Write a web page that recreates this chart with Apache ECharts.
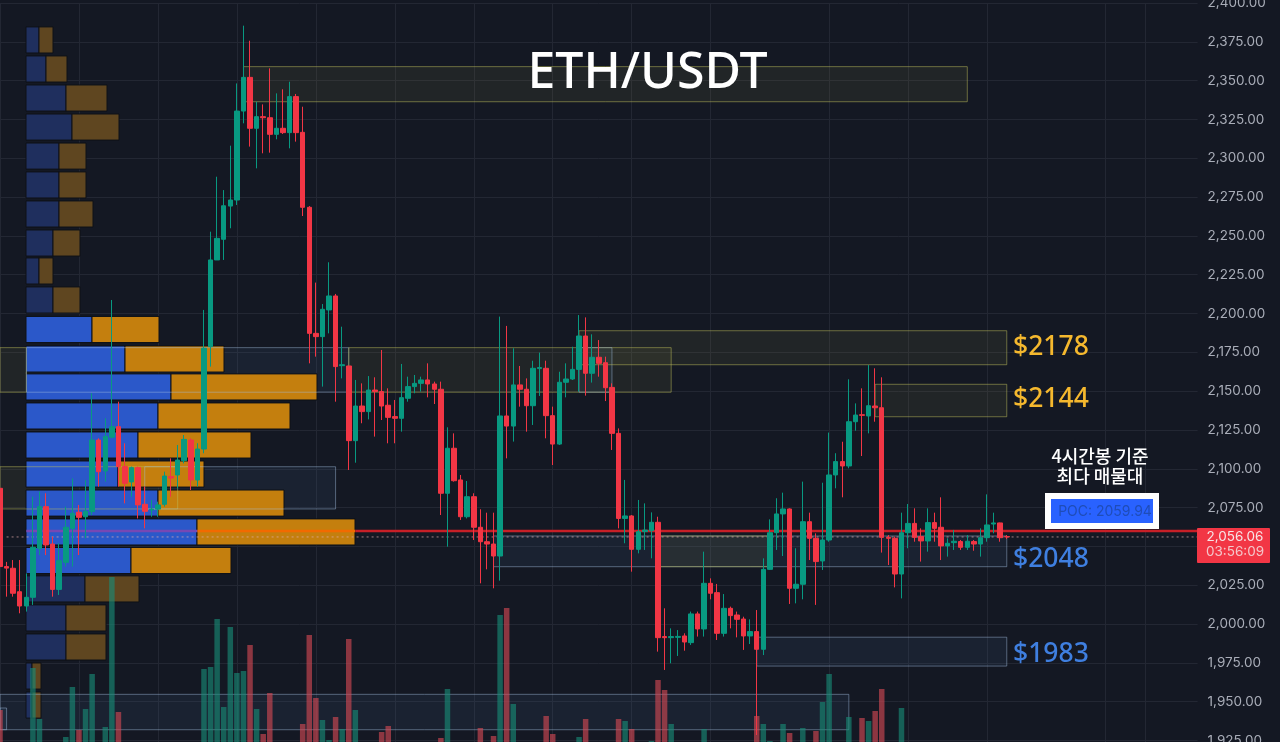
<!DOCTYPE html>
<html>
<head>
<meta charset="utf-8">
<title>ETH/USDT</title>
<script src="https://cdn.jsdelivr.net/npm/echarts@6/dist/echarts.min.js"></script>
<style>
  html, body { margin: 0; padding: 0; background: #141823; overflow: hidden; }
  #chart { width: 1280px; height: 742px; }
</style>
</head>
<body>
<div id="chart"></div>
<script>
'use strict';

// candles, 10 per line
const opens = [
  2087.4,2037,2035.9,2020.8,2011.6,2017.2,2048.7,2075.6,2051.5,2022.3,
  2039.7,2061.6,2072,2069.1,2072.4,2118.5,2098.6,2120.3,2127.1,2101.4,
  2091.5,2100.7,2077.1,2073.4,2074,2077.1,2095,2096,2105.2,2118.5,
  2092.8,2112.7,2178.6,2234.5,2247.8,2269.2,2273.1,2330.4,2352.1,2319.3,
  2326.8,2326.1,2315.4,2319.3,2316.5,2339.7,2316.7,2268.4,2187.2,2185.1,
  2202.3,2211.3,2166.4,2166.2,2118.1,2140.4,2136.8,2150.7,2149.7,2140.9,
  2133.6,2132.5,2145.4,2152.9,2155,2157.2,2154.6,2151.2,2084.2,2113.2,
  2092.8,2069.1,2082,2062.3,2053,2051.5,2043.8,2134,2127.5,2154,
  2151.2,2140.6,2164.5,2164.7,2134.2,2115.9,2155.7,2157.8,2164,2185.5,
  2161.5,2171.8,2168.3,2152.4,2122.8,2068,2069.6,2048.1,2059.5,2060.1,
  2065.5,1991.9,1991.2,1991.4,1992.3,1988,2006.5,1996.8,2026.2,2020.2,
  1994,2010.1,2005.8,2003.2,1992.3,1995.1,1983.7,2035.2,2058.8,2070.9,
  2074.1,2023,2025.6,2065.9,2055.2,2040.6,2054.1,2096,2104.6,2101.8,
  2130.3,2134.8,2134,2140.4,2139.3,2055.8,2055.2,2032.2,2058.8,2064.8,
  2056.3,2053.5,2065.3,2062.3,2050.3,2052.4,2053.1,2049.4,2053.1,2051.5,
  2055.6,2064.4,2065.1,2056.3
];
const closes = [
  2037,2036,2019.8,2011.6,2017.2,2049.4,2075.6,2050.9,2022.3,2040.8,
  2062.3,2071.3,2068.7,2072.6,2118.5,2098.1,2120.7,2127.1,2101.4,2090.6,
  2100.7,2076.7,2072.6,2074,2076.7,2095.3,2094,2105.6,2118.9,2092.8,
  2112.7,2177.6,2234.5,2248.4,2269.4,2273.1,2330.4,2352.1,2319.3,2326.8,
  2326.1,2315.4,2319.3,2316.5,2339.7,2316.5,2268.4,2187.2,2185.1,2202.7,
  2211.3,2165.8,2167,2118.1,2140.4,2136.8,2150.7,2149.7,2140.4,2133.1,
  2132.5,2145.8,2152.9,2155,2157.2,2154.6,2151.2,2084.2,2113.2,2092.3,
  2069.1,2082,2062.3,2053,2051.5,2043.8,2134,2127.5,2154,2151.2,
  2140.6,2164.7,2165.2,2134.2,2115.9,2155.7,2157.8,2164,2185.5,2161.5,
  2171.8,2167.9,2152.2,2122.8,2068,2069.6,2048.1,2059.5,2060.5,2065.5,
  1991.2,1991.2,1991.9,1992,1988.4,2006.5,1996.8,2026.2,2019.8,1994,
  2010.1,2005.4,2003,1992.3,1995.1,1983.7,2035.2,2058.8,2070.9,2074.1,
  2023,2025.6,2065.9,2055.2,2040.2,2054.1,2096,2104.6,2101.8,2130.3,
  2134.6,2134.4,2140.6,2139.3,2055.8,2055.2,2032.2,2058.8,2064.8,2055.8,
  2053.5,2065.3,2061.6,2050.3,2052,2053.3,2049.4,2053.3,2051.5,2055.6,
  2063.8,2065.1,2055.6,2056.06
];
const lows = [
  2026.2,2017.6,2017.6,2006.9,2008,2012.3,2044.4,2044.4,2017.6,2018.7,
  2037,2037,2044.4,2055.2,2070.2,2088.5,2091.7,2119.6,2088.5,2077.7,
  2082,2068,2061.6,2069.1,2069.1,2075.6,2082,2087.4,2103.5,2086.3,
  2088.5,2110,2165.8,2234.5,2234.5,2254.9,2269.9,2322.5,2307.5,2293.5,
  2303.2,2303.6,2312.2,2315.6,2306.4,2310.7,2262.8,2167.9,2172.2,2152.9,
  2187.2,2143.2,2158.2,2099.2,2103.9,2129.3,2131.8,2120.7,2131.4,2116.4,
  2116.4,2123.9,2143.2,2148.6,2149.7,2146,2141.7,2070.2,2049.8,2091.7,
  2067,2068,2054.1,2026.2,2035.2,2023,2027.9,2106.7,2117.5,2140,
  2123.9,2128.2,2146.9,2119.6,2102.4,2115.3,2146,2157.2,2149.7,2147.1,
  2155.5,2159.3,2143.6,2112.1,2061.6,2052,2033.7,2045.5,2047.7,2042.3,
  1982.2,1970.4,1974.7,1979.4,1982.8,1986.5,1991.9,1991.9,2015.9,1989.7,
  1991.9,1997.2,1991.4,1983.3,1987.1,1928.5,1980,2034.8,2047.7,2043.8,
  2012.9,2013.3,2015.9,2041.2,2012.3,2034.8,2053,2087.4,2081.6,2100.3,
  2124.5,2108.2,2122.8,2130.3,2046,2038,2023.6,2016.5,2048.8,2053,
  2040.2,2046.6,2053,2041.2,2043.4,2047.7,2047.7,2047.7,2047.2,2043.4,
  2053,2058.4,2053,2054.8
];
const highs = [
  2094.9,2040,2041.2,2041.2,2032.6,2082,2085.3,2084.2,2056.3,2052,
  2075.6,2093.8,2076.7,2092.8,2148.6,2119.6,2132.5,2208.7,2143.2,2116.4,
  2101.4,2101.4,2088.5,2079.9,2078.8,2098.1,2106.7,2115.3,2121.7,2119.6,
  2116.4,2202.3,2252.7,2288.1,2279.5,2308.1,2348.2,2385.4,2375.7,2336.4,
  2334.7,2357.9,2341.8,2344.4,2349.3,2341.4,2333.2,2269.2,2219.9,2206.1,
  2233,2212.6,2191.5,2166.2,2157.2,2155,2159.7,2158.9,2176.5,2151.8,
  2144.3,2167.5,2159.3,2160.4,2159.3,2167.9,2156.1,2156.1,2126.7,2122.8,
  2096,2092.1,2084.2,2073.9,2071.7,2071.7,2198,2192,2177.6,2166.2,
  2158.2,2169.6,2174.8,2169.6,2140,2162.5,2167.9,2178.6,2199,2197.5,
  2186.6,2182.9,2172.2,2155,2126,2092.8,2070.2,2079.9,2077.7,2071.9,
  2069.1,2010.1,1997.2,1996.1,1994,2008,2008,2046.6,2029.4,2025.8,
  2019.3,2011.2,2008,2004.7,2003,2009,2042.3,2067.4,2081,2084.6,
  2074.5,2048.8,2091.7,2071.7,2058.4,2091,2123.3,2110,2117.4,2157.6,
  2142.1,2151.8,2166.8,2164.7,2158.9,2057.3,2056.3,2071.7,2077.3,2074.5,
  2061.6,2074.5,2071.7,2081.6,2055.2,2060.6,2054.1,2057.3,2054.1,2061.6,
  2083.5,2071.7,2065.3,2057.3
];
const volumes = [
  32,0,0,0,0,74,23,0,0,0,
  5,55,12,33,68,0,15,165,30,0,
  0,0,0,0,0,0,0,0,0,0,
  0,73,75,123,35,115,69,71,97,33,
  8,49,0,0,0,0,18,107,44,22,
  2,25,13,103,32,0,0,0,10,16,
  0,0,0,0,0,0,0,4,53,0,
  0,0,0,14,0,6,127,134,38,0,
  0,0,0,26,8,0,0,0,5,23,
  0,0,0,0,23,21,13,0,0,1,
  62,52,18,0,0,0,0,13,0,0,
  0,0,0,0,0,26,18,1,0,18,
  9,0,14,0,11,40,68,0,0,25,
  0,24,21,31,53,0,0,34,0,0,
  0,0,0,0,0,0,0,0,0,0,
  0,0,0,0
];

// 183 slots, the last ones stay empty up to the price scale
const categories = Array.from({ length: 183 }, (_, i) => i);
const gridTicks = [0, 12, 24, 36, 48, 60, 72, 84, 96, 108, 126, 138, 150, 168, 174];

// volume profile rows, top to bottom
const profPrice = [2376.2, 2357.5, 2338.8, 2320.1, 2301.4, 2282.8, 2264.1, 2245.4, 2227.4, 2208.7, 2189.7, 2170.7,
  2152.7, 2134, 2115.3, 2096.6, 2077.9, 2059.3, 2040.9, 2022.6, 2003.9, 1985.2, 1966.5, 1947.8];
const profBuy = [13, 20, 40, 46, 33, 33, 33, 27, 13, 27, 66, 99, 145, 132, 112, 92, 132, 171, 105, 59, 40, 40, 6, 6];
const profSell = [14, 21, 41, 47, 27, 27, 34, 27, 14, 27, 67, 99, 146, 132, 113, 86, 126, 158, 100, 54, 40, 40, 9, 9];
const profValueArea = [0, 0, 0, 0, 0, 0, 0, 0, 0, 0, 1, 1, 1, 1, 1, 1, 1, 1, 1, 0, 0, 0, 0, 0];

// boxes on the chart: from candle, to candle, upper price, lower price
const zoneStart = [37, 0, 4, 53, 88, 88, 133, 75, 100, 115, 0, 0, 22, 0];
const zoneEnd = [147, 4, 53, 102, 93, 153, 153, 153, 117, 153, 129, 27, 51, 1];
const zoneTop = [2359, 2178, 2178, 2178, 2178, 2188.9, 2154.4, 2056.7, 2056.7, 1991.5, 1954.7, 2101.3, 2101.3, 1945.9];
const zoneBottom = [2336.4, 2149.3, 2149.3, 2149.3, 2149.3, 2167, 2133.5, 2036.9, 2036.9, 1972.9, 1931.9, 2074.1, 2074.1, 1931.9];
const zoneYellow = [1, 1, 0, 1, 0, 1, 1, 0, 1, 0, 0, 1, 0, 0];

const pocPrice = 2059.94;
const lastPrice = 2056.06;

const UP = '#089981';
const DOWN = '#f23645';
const BG = '#141823';

const candleData = opens.map((o, i) => [o, closes[i], lows[i], highs[i]]);
const volumeData = volumes.map((v, i) => ({
  value: v,
  itemStyle: { color: closes[i] >= opens[i] ? 'rgba(24,140,120,0.62)' : 'rgba(214,72,84,0.62)' },
}));
const zoneData = zoneStart.map((s, i) => [s, zoneEnd[i], zoneTop[i], zoneBottom[i], zoneYellow[i]]);
const profData = profPrice.map((p, i) => [profBuy[i], profSell[i], p, profValueArea[i]]);

const PROF_HALF = 8.4; // half a row, in price

function renderProfile(params, api) {
  const buy = api.value(0);
  const sell = api.value(1);
  const p = api.value(2);
  const bright = api.value(3);
  const a = api.coord([0, p + PROF_HALF]);
  const b = api.coord([buy, p - PROF_HALF]);
  const c = api.coord([buy + sell, p - PROF_HALF]);
  const line = { stroke: '#0e1117', lineWidth: 1 };
  return {
    type: 'group',
    children: [
      {
        type: 'rect',
        shape: { x: a[0], y: a[1], width: b[0] - a[0], height: b[1] - a[1] },
        style: { fill: bright ? '#2b58c9' : '#1f2f5e', ...line },
      },
      {
        type: 'rect',
        shape: { x: b[0], y: a[1], width: c[0] - b[0], height: b[1] - a[1] },
        style: { fill: bright ? '#c47f0e' : '#5f4620', ...line },
      },
    ],
  };
}

function zoneRect(api) {
  const a = api.coord([api.value(0), api.value(2)]);
  const b = api.coord([api.value(1), api.value(3)]);
  return { x: a[0], y: a[1], width: b[0] - a[0], height: b[1] - a[1] };
}

// fill goes under the profile, outline over it
function renderZoneFill(params, api) {
  return {
    type: 'rect',
    shape: zoneRect(api),
    style: { fill: api.value(4) ? 'rgba(150,150,70,0.11)' : 'rgba(70,110,150,0.13)' },
  };
}

function renderZoneLine(params, api) {
  return {
    type: 'rect',
    shape: zoneRect(api),
    style: {
      fill: 'none',
      stroke: api.value(4) ? 'rgba(190,190,90,0.5)' : 'rgba(165,190,225,0.45)',
      lineWidth: 1,
    },
  };
}

function flatLine(name, from, to, price, lineStyle) {
  return {
    type: 'line',
    name,
    xAxisIndex: 0,
    yAxisIndex: 0,
    z: 4,
    symbol: 'none',
    lineStyle,
    data: [[from, price], [to, price]],
  };
}

const chart = echarts.init(document.getElementById('chart'), null, { renderer: 'canvas' });

chart.setOption({
  animation: false,
  backgroundColor: BG,
  // grid runs past the bottom edge so the scale keeps its real pixel size
  grid: { left: 0, top: 3, width: 1197.6, height: 776.25, containLabel: false, outerBoundsMode: 'none' },
  xAxis: [
    {
      type: 'category',
      data: categories,
      boundaryGap: false,
      axisLine: { show: false },
      axisTick: { show: false },
      axisLabel: { show: false },
      splitLine: {
        show: true,
        interval: (i) => gridTicks.includes(i),
        lineStyle: { color: '#232733', width: 1 },
      },
    },
    { type: 'value', show: false, min: -26, max: 1171.6, splitLine: { show: false } },
  ],
  yAxis: [
    {
      type: 'value',
      position: 'right',
      min: 1900,
      max: 2400,
      interval: 25,
      axisLine: { show: false },
      axisTick: { show: false },
      axisLabel: {
        color: '#a9adb8',
        fontSize: 13.5,
        fontFamily: 'Inter, "Liberation Sans", sans-serif',
        margin: 10,
        padding: [2, 0, 0, 0],
        formatter: (v) => v.toLocaleString('en-US', { minimumFractionDigits: 2, maximumFractionDigits: 2 }),
      },
      splitLine: { show: true, lineStyle: { color: '#232733', width: 1 } },
    },
    { type: 'value', show: false, min: -37.25, max: 739, splitLine: { show: false } },
  ],
  series: [
    {
      type: 'custom',
      name: 'zone fill',
      xAxisIndex: 0,
      yAxisIndex: 0,
      z: 0,
      renderItem: renderZoneFill,
      encode: { x: [0, 1], y: [2, 3] },
      data: zoneData,
    },
    {
      type: 'custom',
      name: 'profile',
      xAxisIndex: 1,
      yAxisIndex: 0,
      z: 1,
      renderItem: renderProfile,
      encode: { x: [0, 1], y: 2 },
      data: profData,
    },
    {
      type: 'custom',
      name: 'zone line',
      xAxisIndex: 0,
      yAxisIndex: 0,
      z: 2,
      renderItem: renderZoneLine,
      encode: { x: [0, 1], y: [2, 3] },
      data: zoneData,
    },
    {
      type: 'bar',
      name: 'volume',
      xAxisIndex: 0,
      yAxisIndex: 1,
      z: 3,
      barWidth: 5.5,
      data: volumeData,
    },
    flatLine('poc over buy', 4, 30, pocPrice, { color: '#7648b4', width: 2.5 }),
    flatLine('poc over sell', 30, 54, pocPrice, { color: '#f26a00', width: 2.5 }),
    flatLine('poc', 54, 182, pocPrice, { color: '#c81f27', width: 2.5 }),
    flatLine('last', 1, 182, lastPrice, { color: 'rgba(225,170,170,0.7)', width: 1, type: [2, 3] }),
    {
      type: 'candlestick',
      name: 'ETH/USDT',
      xAxisIndex: 0,
      yAxisIndex: 0,
      z: 5,
      barWidth: 5,
      itemStyle: { color: UP, color0: DOWN, borderColor: UP, borderColor0: DOWN, borderWidth: 1 },
      data: candleData,
    },
  ],
  graphic: [
    {
      type: 'text', z: 20, x: 647.5, y: 74,
      style: {
        text: 'ETH/USDT', fill: '#ffffff', fontSize: 50, fontWeight: 500, fontFamily: '"Noto Sans", sans-serif',
        align: 'center', verticalAlign: 'middle',
      },
    },
    {
      type: 'text', z: 20, x: 1013, y: 347,
      style: { text: '$2178', fill: '#f5b82e', fontSize: 26.5, fontWeight: 500, fontFamily: '"Noto Sans", sans-serif', verticalAlign: 'middle' },
    },
    {
      type: 'text', z: 20, x: 1013, y: 399,
      style: { text: '$2144', fill: '#f5b82e', fontSize: 26.5, fontWeight: 500, fontFamily: '"Noto Sans", sans-serif', verticalAlign: 'middle' },
    },
    {
      type: 'text', z: 20, x: 1013, y: 559,
      style: { text: '$2048', fill: '#3f7fe0', fontSize: 26.5, fontWeight: 500, fontFamily: '"Noto Sans", sans-serif', verticalAlign: 'middle' },
    },
    {
      type: 'text', z: 20, x: 1013, y: 654,
      style: { text: '$1983', fill: '#3f7fe0', fontSize: 26.5, fontWeight: 500, fontFamily: '"Noto Sans", sans-serif', verticalAlign: 'middle' },
    },
    {
      type: 'text', z: 20, x: 1100, y: 466,
      style: {
        text: '4시간봉 기준\n최다 매물대', fill: '#ffffff', fontSize: 18, lineHeight: 20, fontWeight: 500,
        fontFamily: '"Noto Sans CJK KR", sans-serif', align: 'center', verticalAlign: 'middle',
      },
    },
    {
      type: 'rect', z: 20,
      shape: { x: 1048, y: 496, width: 108, height: 30 },
      style: { fill: '#2962ff', stroke: '#ffffff', lineWidth: 6 },
    },
    {
      type: 'text', z: 21, x: 1105, y: 512,
      style: {
        text: 'POC: 2059.94', fill: '#1f4db8', fontSize: 14, fontFamily: 'Inter, "Liberation Sans", sans-serif',
        align: 'center', verticalAlign: 'middle',
      },
    },
    {
      type: 'rect', z: 20,
      shape: { x: 1197, y: 528, width: 73, height: 35, r: 1 },
      style: { fill: DOWN },
    },
    {
      type: 'text', z: 21, x: 1235, y: 537,
      style: {
        text: '2,056.06', fill: '#f7e4e6', fontSize: 13.5, fontFamily: 'Inter, "Liberation Sans", sans-serif',
        align: 'center', verticalAlign: 'middle',
      },
    },
    {
      type: 'text', z: 21, x: 1235, y: 552,
      style: {
        text: '03:56:09', fill: '#f4c6ca', fontSize: 13.5, fontFamily: 'Inter, "Liberation Sans", sans-serif',
        align: 'center', verticalAlign: 'middle',
      },
    },
  ],
});

window.addEventListener('resize', () => chart.resize());
</script>
</body>
</html>
